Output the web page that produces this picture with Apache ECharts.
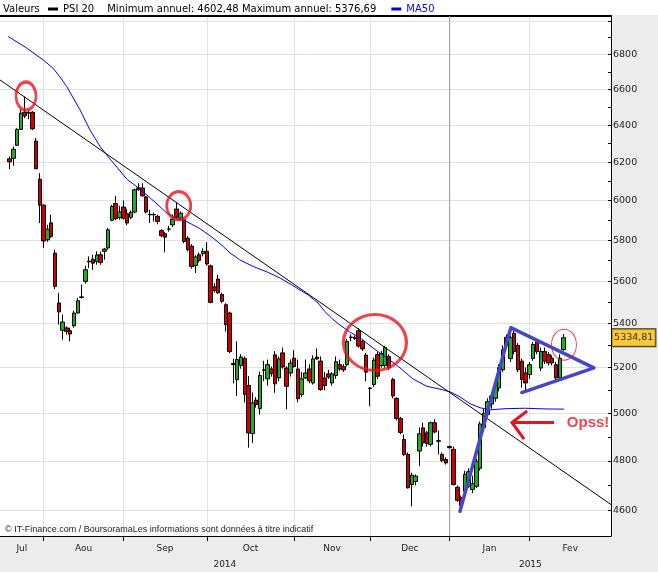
<!DOCTYPE html>
<html><head><meta charset="utf-8">
<script src="https://cdn.jsdelivr.net/npm/echarts@6/dist/echarts.min.js"></script>
<style>html,body{margin:0;padding:0;background:#ececec}#c{width:658px;height:572px}</style>
</head><body><div id="c"></div>
<script>
// ---------------- DATA ----------------
const calendarStart = '2014-07-17';
const calendarEnd = '2015-03-03';
const marketHolidays = ['2014-12-25', '2014-12-26', '2015-01-01'];
const firstCandleDate = '2014-07-21';
const monthLabels = ['Jul', 'Aou', 'Sep', 'Oct', 'Nov', 'Dec', 'Jan', 'Fev'];
const yearLabels = ['2014', '2015'];

const opens = [6219,6222,6292,6378,6472,6470,6472,6314,6111,5977,5802,5887,5736,5496,5369,5380,5367,5390,5449,5522,5599,5693,5706,5695,5728,5745,5762,5900,5985,5914,5967,5933,5915,5942,6066,6066,6019,5930,5929,5920,5848,5832,5856,5877,5957,5910,5903,5810,5770,5676,5728,5733,5745,5674,5572,5610,5536,5488,5449,5218,5147,5209,5241,5121,4914,5057,5021,5190,5150,5194,5257,5154,5266,5198,5176,5242,5194,5082,5154,5194,5132,5247,5229,5154,5172,5132,5165,5213,5205,5213,5336,5331,5367,5318,5256,5110,5125,5258,5209,5209,5250,5147,5064,4978,4889,4827,4704,4716,4841,4938,4917,4869,4960,4884,4827,4806,4860,4848,4693,4651,4677,4697,4684,4697,4770,4940,4995,5040,5065,5110,5190,5337,5240,5355,5300,5229,5176,5169,5241,5318,5198,5272,5258,5242,5213,5154,5281];
const closes = [6203,6270,6378,6467,6452,6468,6381,6166,5977,5796,5855,5818,5575,5454,5407,5364,5352,5449,5507,5525,5655,5697,5687,5727,5690,5756,5852,5970,5908,5942,5910,5886,5940,6056,6057,6025,5942,5928,5928,5894,5822,5815,5855,5906,5916,5936,5794,5753,5671,5717,5700,5745,5683,5499,5555,5544,5504,5395,5272,5213,5236,5247,5082,4917,5045,5038,5165,5188,5213,5173,5128,5239,5203,5117,5220,5205,5063,5150,5176,5141,5239,5239,5103,5121,5158,5172,5226,5194,5190,5318,5338,5337,5297,5284,5180,5108,5233,5162,5263,5290,5198,5075,4978,4919,4827,4691,4742,4738,4913,4875,4872,4960,4921,4882,4802,4792,4855,4704,4641,4619,4745,4756,4707,4799,4955,5000,5050,5075,5120,5200,5280,5300,5335,5272,5190,5147,5132,5213,5304,5272,5272,5229,5221,5221,5154,5242,5334.81];
const lows = [6165,6182,6289,6375,6440,6434,6375,6165,5886,5762,5792,5812,5562,5395,5326,5349,5318,5381,5446,5517,5588,5663,5655,5680,5679,5704,5753,5895,5900,5903,5903,5875,5905,5935,6050,6020,5935,5886,5894,5880,5815,5740,5843,5865,5905,5900,5785,5745,5660,5639,5690,5720,5675,5495,5545,5540,5495,5363,5265,5130,5075,5195,5047,4855,4875,5025,4995,5140,5120,5160,5089,5140,5195,5017,5160,5200,5048,5070,5150,5130,5125,5235,5098,5100,5150,5120,5150,5185,5180,5205,5320,5325,5290,5275,5139,5031,5115,5150,5200,5200,5190,5065,4970,4912,4820,4688,4617,4700,4779,4860,4860,4860,4915,4827,4795,4785,4852,4700,4635,4602.48,4665,4690,4670,4690,4760,4920,4985,5020,5050,5095,5180,5285,5225,5260,5180,5112,5096,5150,5230,5260,5185,5215,5210,5210,5140,5145,5275];
const highs = [6232,6285,6384,6489,6560,6481,6478,6330,6143,5980,5877,5928,5753,5544,5442,5387,5381,5460,5521,5583,5674,5720,5728,5745,5743,5762,5862,5978,6025,5974,6001,5958,5950,6062,6090,6090,6025,5953,5939,5928,5855,5840,5872,5930,5988,5945,5910,5820,5780,5725,5740,5760,5790,5680,5590,5630,5545,5495,5455,5240,5318,5260,5250,5162,5090,5070,5183,5230,5236,5205,5274,5250,5290,5205,5236,5278,5236,5180,5236,5215,5255,5286,5250,5180,5190,5180,5250,5236,5215,5330,5350,5345,5380,5325,5265,5112,5245,5270,5275,5298,5260,5155,5070,4985,4910,4835,4752,4745,4940,4960,4925,4965,4975,4927,4835,4815,4863,4860,4700,4660,4760,4770,4740,4810,4965,5020,5065,5090,5135,5215,5300,5350,5345,5376.69,5310,5240,5200,5225,5315,5325,5290,5290,5270,5255,5225,5260,5352];

// MA50: position in trading-day slots, value
const maPos = [1.6,6.1,10.9,13.5,15.3,17.1,20.6,23.2,25.9,28.5,30.9,33.0,35.3,38.2,40.9,43.5,46.1,48.8,51.9,55.1,57.9,60.1,62.7,66.2,69.9,73.3,77.0,80.7,83.3,85.1,87.0,89.1,91.7,94.4,97.8,101.5,104.9,108.3,112.0,115.4,118.1,120.7,123.4,126.0,128.6,132.6,137.8,143.1,148.1];
const maValues = [6907,6845,6769,6721,6671,6616,6485,6375,6284,6218,6160,6110,6076,6029,5983,5935,5907,5892,5861,5819,5776,5737,5703,5671,5644,5615,5575,5534,5496,5456,5423,5393,5361,5334,5288,5243,5199,5150,5117,5105,5093,5071,5041,5024,5015,5020,5022,5019,5018];

const minAnnual = 4602.48;
const maxAnnual = 5376.69;

// right axis
const yLabelValues = [4600,4800,5000,5200,5400,5600,5800,6000,6200,6400,6600,6800];
const yGridValues = [4600,4800,5000,5200,5400,5600,5800,6000,6200,6400,6600,6800,7000];
const yTickValues = [4600,4700,4800,4900,5000,5100,5200,5300,5400,5500,5600,5700,5800,5900,6000,6100,6200,6300,6400,6500,6600,6700,6800,6900,7000];
const yAxisMin = 4501;
const yAxisMax = 7029;

// annotations (slot position, value)
const trendPos = [-0.5, 160.5];
const trendValues = [6654, 4624];
const trianglePos = [120.7, 134.1, 156.0, 137.0];
const triangleValues = [4597, 5381, 5199, 5090];
const circlePos = [6.35, 46.6, 98.3, 148.1];
const circleValues = [6563, 5974, 5313, 5303];
const arrowShaftPos = [145.5, 134.4];
const arrowShaftValues = [4961, 4961];
const arrowHeadPos = [138.4, 134.4, 137.6];
const arrowHeadValues = [5010, 4961, 4891];
const notePos = [148.6];
const noteValues = [4961];
const noteTexts = ['Opss!'];

// ---------------- BUILD ----------------
function tradingDays(start, end, holidays) {
  const out = [];
  const d = new Date(start + 'T00:00:00Z');
  const e = new Date(end + 'T00:00:00Z');
  while (d <= e) {
    const wd = d.getUTCDay();
    const iso = d.toISOString().slice(0, 10);
    if (wd !== 0 && wd !== 6 && holidays.indexOf(iso) < 0) out.push(iso);
    d.setUTCDate(d.getUTCDate() + 1);
  }
  return out;
}
const categories = tradingDays(calendarStart, calendarEnd, marketHolidays);
const N = categories.length;
const offset = categories.indexOf(firstCandleDate);
const candleData = categories.map((c, i) => {
  const k = i - offset;
  return (k >= 0 && k < opens.length) ? [opens[k], closes[k], lows[k], highs[k]] : ['-', '-', '-', '-'];
});

const monthStartsAll = [];
const yearStartsAll = [];
categories.forEach((c, i) => {
  if (i > 0 && c.slice(0, 7) !== categories[i - 1].slice(0, 7)) monthStartsAll.push(i);
  if (i > 0 && c.slice(0, 4) !== categories[i - 1].slice(0, 4)) yearStartsAll.push(i);
});
const monthStarts = monthStartsAll.slice(0, monthLabels.length - 1);
const monthBounds = [-0.5].concat(monthStarts, [N - 0.5]);
const monthMids = monthLabels.map((m, i) => (monthBounds[i] + monthBounds[i + 1]) / 2);
const yearBounds = [-0.5].concat(yearStartsAll, [N - 0.5]);
const yearMids = yearLabels.map((y, i) => (yearBounds[i] + yearBounds[i + 1]) / 2);

function labelAt(mids, labels, v) {
  for (let i = 0; i < mids.length; i++) if (Math.abs(mids[i] - v) < 0.01) return labels[i];
  return '';
}
const fmtFr = v => v.toFixed(2).replace('.', ',');
const pairs = (xs, ys) => xs.map((x, i) => [x, ys[i]]);
const lastClose = closes[closes.length - 1];

const FONT = 'DejaVu Sans';
const RED = '#e8141c';
const ellipse = 'path://M0,50A50,50,0,1,1,100,50A50,50,0,1,1,0,50Z';
const circleSizes = [[20, 28], [24, 28], [63, 56], [25, 31]];
const circleWidths = [3, 3, 3, 1];

const chart = echarts.init(document.getElementById('c'));
chart.setOption({
  animation: false,
  backgroundColor: '#ececec',
  textStyle: { fontFamily: FONT },
  grid: { left: 0, right: 47, top: 16, bottom: 36, show: true, backgroundColor: '#ffffff', borderWidth: 0 },
  title: { text: 'Valeurs', left: 3, top: 4, padding: 0,
    textStyle: { fontSize: 10, fontWeight: 'normal', color: '#000', fontFamily: FONT } },
  legend: {
    left: 48, top: 4, padding: 0, itemWidth: 10, itemHeight: 3, itemGap: 15,
    selectedMode: false,
    data: [
      { name: 'PSI 20', icon: 'rect', itemStyle: { color: '#000', borderWidth: 0 } },
      { name: 'MA50', icon: 'rect', itemStyle: { color: '#0000ff', borderWidth: 0 }, textStyle: { color: '#0000ff' } }
    ],
    textStyle: { fontSize: 10, color: '#000', fontFamily: FONT,
      rich: { a: { fontSize: 10, color: '#000', fontFamily: FONT },
              b: { fontSize: 10, color: '#000', fontFamily: FONT, padding: [0, 0, 0, 13] } } },
    formatter: name => name === 'PSI 20'
      ? '{a|PSI 20}{b|Minimum annuel: ' + fmtFr(minAnnual) + ' Maximum annuel: ' + fmtFr(maxAnnual) + '}'
      : name
  },
  graphic: [
    { type: 'rect', left: 0, top: 0, shape: { width: 658, height: 15 }, style: { fill: '#ffffff' }, z: 0 },
    { type: 'text', left: 5, top: 525, z: 100,
      style: { text: '\u00a9 IT-Finance.com / BoursoramaLes informations sont donn\u00e9es \u00e0 titre indicatif',
               font: '9px "Liberation Sans"', fill: '#222' } }
  ],
  xAxis: [
    { type: 'category', data: categories, boundaryGap: true, position: 'top',
      axisLine: { show: true, onZero: false, lineStyle: { color: '#000', width: 2 } },
      axisTick: { show: false }, axisLabel: { show: false }, splitLine: { show: false } },
    { type: 'value', min: -0.5, max: N - 0.5, position: 'bottom',
      axisLine: { show: true, onZero: false, lineStyle: { color: '#000', width: 1 } },
      axisTick: { show: true, customValues: monthStarts, length: 5, lineStyle: { color: '#000' } },
      axisLabel: { customValues: monthMids, formatter: v => labelAt(monthMids, monthLabels, v),
                   margin: 8, fontSize: 9, color: '#222', fontFamily: FONT },
      splitLine: { show: true, lineStyle: { color: '#e2e2e2', width: 1 } } },
    { type: 'value', min: -0.5, max: N - 0.5, position: 'bottom',
      axisLine: { show: false, onZero: false }, axisTick: { show: false }, splitLine: { show: false },
      axisLabel: { customValues: yearMids, formatter: v => labelAt(yearMids, yearLabels, v),
                   margin: 24, fontSize: 9, color: '#222', fontFamily: FONT } }
  ],
  yAxis: [
    { type: 'log', logBase: 10, min: yAxisMin, max: yAxisMax, position: 'right',
      axisLine: { show: true, onZero: false, lineStyle: { color: '#000', width: 1 } },
      axisTick: { show: false, customValues: yGridValues },
      axisLabel: { customValues: yLabelValues, margin: 2, fontSize: 9.5, color: '#222', fontFamily: FONT,
                   formatter: v => String(Math.round(v)) },
      splitLine: { show: true, lineStyle: { color: '#e2e2e2', width: 1 } } },
    { type: 'log', logBase: 10, min: yAxisMin, max: yAxisMax, position: 'right',
      axisLine: { show: false, onZero: false },
      axisTick: { show: true, inside: true, length: 3, customValues: yTickValues, lineStyle: { color: '#000' } },
      axisLabel: { show: false }, splitLine: { show: false } }
  ],
  series: [
    { type: 'line', xAxisIndex: 1, yAxisIndex: 0, silent: true, z: 1, symbol: 'none',
      data: [[yearStartsAll[0], yAxisMin], [yearStartsAll[0], yAxisMax]],
      lineStyle: { color: '#9a9a9a', width: 1 } },
    { name: 'PSI 20', type: 'candlestick', xAxisIndex: 0, yAxisIndex: 0, data: candleData, barWidth: 4, z: 3,
      itemStyle: { color: '#1cb01c', color0: '#cc0000', borderColor: '#000', borderColor0: '#000', borderWidth: 1 } },
    { name: 'MA50', type: 'line', xAxisIndex: 1, yAxisIndex: 0, data: pairs(maPos, maValues), symbol: 'none', z: 4,
      lineStyle: { color: '#0000ff', width: 1 }, itemStyle: { color: '#0000ff' }, silent: true },
    { type: 'line', xAxisIndex: 1, yAxisIndex: 0, data: pairs(trendPos, trendValues), symbol: 'none', z: 5, silent: true,
      lineStyle: { color: '#000', width: 1 } },
    { type: 'line', xAxisIndex: 1, yAxisIndex: 0, data: pairs(trianglePos, triangleValues), symbol: 'none', z: 6, silent: true,
      lineStyle: { color: '#4646cc', width: 3.5, join: 'round', cap: 'round' } },
    { type: 'scatter', xAxisIndex: 1, yAxisIndex: 0, symbol: ellipse, z: 7, silent: true,
      data: circlePos.map((x, i) => ({ value: [x, circleValues[i]], symbolSize: circleSizes[i],
        itemStyle: { color: 'transparent', borderColor: RED, borderWidth: circleWidths[i] } })) },
    { type: 'line', xAxisIndex: 1, yAxisIndex: 0, data: pairs(arrowShaftPos, arrowShaftValues), symbol: 'none', z: 8, silent: true,
      lineStyle: { color: RED, width: 3 } },
    { type: 'line', xAxisIndex: 1, yAxisIndex: 0, data: pairs(arrowHeadPos, arrowHeadValues), symbol: 'none', z: 8, silent: true,
      lineStyle: { color: RED, width: 3, join: 'miter' } },
    { type: 'scatter', xAxisIndex: 1, yAxisIndex: 0, z: 9, silent: true, symbolSize: 2, clip: false,
      itemStyle: { color: 'rgba(255,255,255,0)' },
      data: pairs(notePos, noteValues),
      label: { show: true, position: 'right', distance: 0, formatter: p => noteTexts[p.dataIndex],
               color: '#e8141c', fontSize: 15, fontWeight: 'bold', fontFamily: 'Liberation Sans' },
      labelLayout: { hideOverlap: false } },
    { type: 'scatter', xAxisIndex: 0, yAxisIndex: 0, z: 10, silent: true, symbolSize: 2, clip: false,
      itemStyle: { color: 'rgba(255,255,255,0)' },
      data: [[N - 1, lastClose]],
      label: { show: true, position: 'right', distance: 2, formatter: () => fmtFr(lastClose),
               backgroundColor: '#ffc20e', borderColor: '#000', borderWidth: 1, padding: [4, 2, 3, 2],
               color: '#000', fontSize: 9.5, fontFamily: FONT } }
  ]
});
</script></body></html>
